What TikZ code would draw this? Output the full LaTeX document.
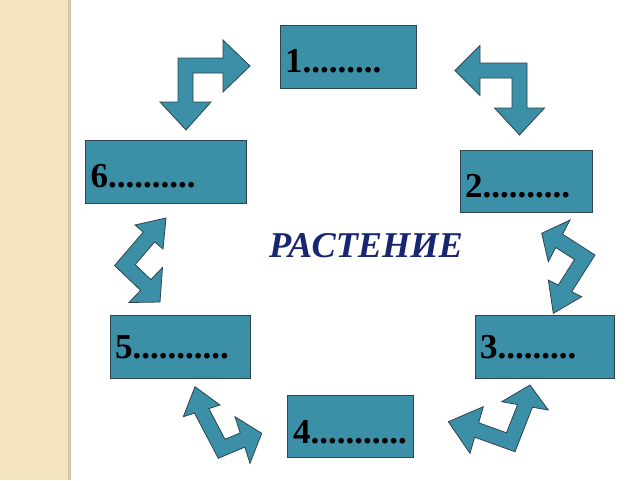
\documentclass[tikz,border=0pt]{standalone}
\usepackage{fontspec}
\setmainfont{Liberation Serif}
\definecolor{tealfill}{RGB}{59,143,166}
\definecolor{edgecol}{RGB}{48,68,80}
\definecolor{navytext}{RGB}{24,38,112}
\definecolor{stripcol}{RGB}{245,229,190}
\definecolor{stripedge}{RGB}{212,198,168}
\begin{document}
\begin{tikzpicture}[x=1pt,y=-1pt,
  box/.style={draw=edgecol, line width=0.9pt, fill=tealfill, inner sep=0pt, anchor=north west},
  lbl/.style={font=\fontsize{35}{35}\selectfont\bfseries, anchor=base west, inner sep=0pt},
  barrow/.style={draw=edgecol, line width=0.8pt, fill=tealfill, line join=miter}]
\useasboundingbox (0,0) rectangle (640,480);
\fill[white] (0,0) rectangle (640,480);
\fill[stripcol] (0,0) rectangle (68,480);
\fill[stripedge] (68,0) rectangle (71,480);
% boxes
\node[box, minimum width=136pt, minimum height=63pt] (b1) at (280,25) {};
\node[box, minimum width=161pt, minimum height=63pt] (b6) at (85,140) {};
\node[box, minimum width=132pt, minimum height=62pt] (b2) at (460,150) {};
\node[box, minimum width=140pt, minimum height=63pt] (b5) at (110,315) {};
\node[box, minimum width=139pt, minimum height=63pt] (b3) at (475,315) {};
\node[box, minimum width=126pt, minimum height=62pt] (b4) at (287,395) {};
% labels
\node[lbl] (t1) at (285,72) {1.........};
\node[lbl] (t6) at (90.5,187) {6..........};
\node[lbl] (t2) at (465,197) {2..........};
\node[lbl] (t5) at (115,358) {5...........};
\node[lbl] (t3) at (480,358) {3.........};
\node[lbl] (t4) at (293,443) {4...........};
\node[font=\fontsize{36.3}{36}\selectfont\bfseries\itshape, text=navytext, anchor=base, inner sep=0pt] (title) at (366,257) {РАСТЕНИЕ};
% arrows
\draw[barrow] (178,58) -- (223,58) -- (223,40) -- (250,66) -- (223,92) -- (223,73) -- (193,73) -- (193,102) -- (211,102) -- (186,130) -- (160,102) -- (178,102) -- cycle;
\draw[barrow] (527,63) -- (527,108) -- (544.5,108) -- (519.5,135) -- (494.5,108) -- (512,108) -- (512,78) -- (480,78) -- (480,95.5) -- (455,70.5) -- (480,45.5) -- (480,63) -- cycle;
\draw[barrow] (570,220) -- (562.6,234.2) -- (595,255) -- (571.7,291.7) -- (581.7,296.7) -- (553.3,313.3) -- (548.3,280) -- (558.3,285) -- (574.5,259.5) -- (555.7,247.5) -- (548.3,261.7) -- (541.7,233.3) -- cycle;
\draw[barrow] (530,385) -- (548.3,410) -- (532.4,407.2) -- (515,451.7) -- (474.6,437.2) -- (470,453.3) -- (448.3,421.7) -- (483.3,406.7) -- (478.7,422.8) -- (506.5,432.8) -- (517.6,404.5) -- (501.7,401.7) -- cycle;
\draw[barrow] (195,386.7) -- (220,405) -- (208.8,408.6) -- (225,439.3) -- (240.2,432.9) -- (235,416.7) -- (261.7,433.3) -- (250,463.3) -- (244.8,447.1) -- (218.3,458.3) -- (194.5,413.1) -- (183.3,416.7) -- cycle;
\draw[barrow] (166,218) -- (163,249) -- (154.7,241.9) -- (135.2,264.6) -- (150.9,279.6) -- (162.5,267.5) -- (160,302) -- (129,302.5) -- (140.6,290.4) -- (114.6,265.5) -- (143.3,232.1) -- (135,225) -- cycle;
\end{tikzpicture}
\end{document}
